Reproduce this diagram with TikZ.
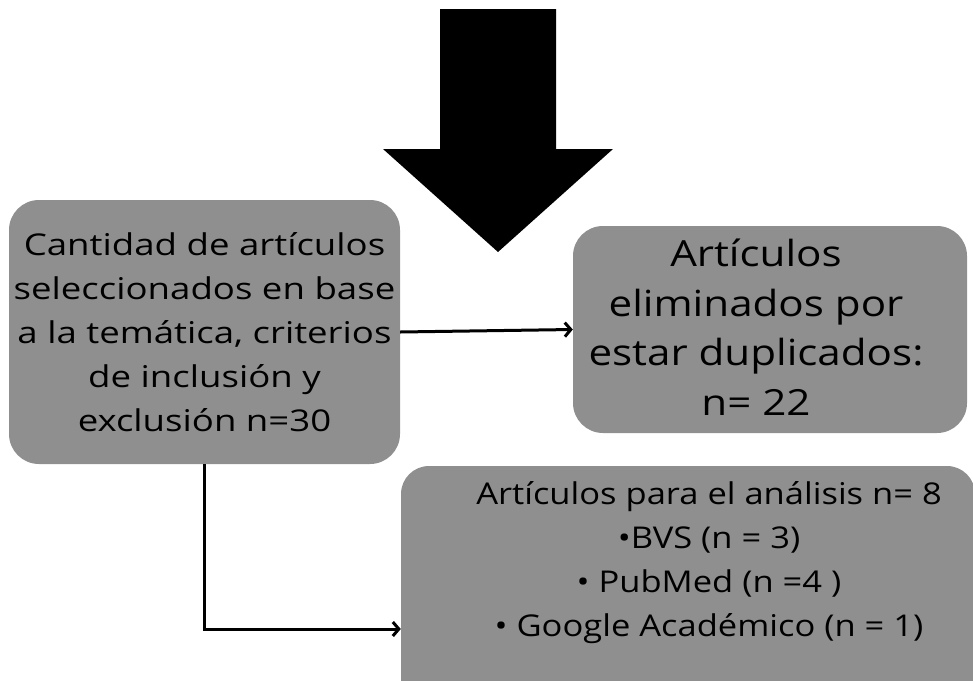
\documentclass[tikz,border=0pt]{standalone}
\usepackage{fontspec}
\setmainfont{Open Sans}
\newfontfamily\selfont{Open Sans}[FakeStretch=1.22]
\newfontfamily\dupfont{Open Sans}[FakeStretch=1.17]
\newfontfamily\resfont{Open Sans}[FakeStretch=1.15]
\usetikzlibrary{arrows.meta}
\definecolor{boxgray}{RGB}{143,143,143}
\begin{document}
\begin{tikzpicture}[x=1pt,y=-1pt,
  box/.style={fill=boxgray,rounded corners=30pt,inner sep=0pt,align=center,text=black},
  conn/.style={line width=3pt,-{Straight Barb[length=6pt,width=14pt,line width=3pt]}}]
\useasboundingbox (0,0) rectangle (973,680);
\clip (0,0) rectangle (973,680);
% big down arrow
\fill[black] (440,9) -- (556,9) -- (556,149) -- (613,149) -- (498,252) -- (383,149) -- (440,149) -- cycle;
% boxes
\node[box,minimum width=391pt,minimum height=264pt,font=\selfont\fontsize{30}{44}\selectfont] (sel) at (204.5,332)
  {Cantidad de artículos\\seleccionados en base\\a la temática, criterios\\de inclusión y\\exclusión n=30};
\node[box,minimum width=394pt,minimum height=207pt] (dup) at (770,329.5) {};
\node[align=center,inner sep=0pt,font=\dupfont\fontsize{36}{49.5}\selectfont] (duptext) at (756,327)
  {Artículos\\eliminados por\\estar duplicados:\\n= 22};
\node[box,rounded corners=28pt,minimum width=574pt,minimum height=326pt] (res) at (688,629) {};
\node[align=center,inner sep=0pt,font=\resfont\fontsize{30}{44}\selectfont] (restext) at (709,563)
  {Artículos para el análisis n= 8\\•BVS (n = 3)\\• PubMed (n =4 )\\• Google Académico (n = 1)};
% connectors
\draw[conn] (sel.east) -- (dup.west);
\draw[conn] (sel.south) |- (res.west);
\end{tikzpicture}
\end{document}
